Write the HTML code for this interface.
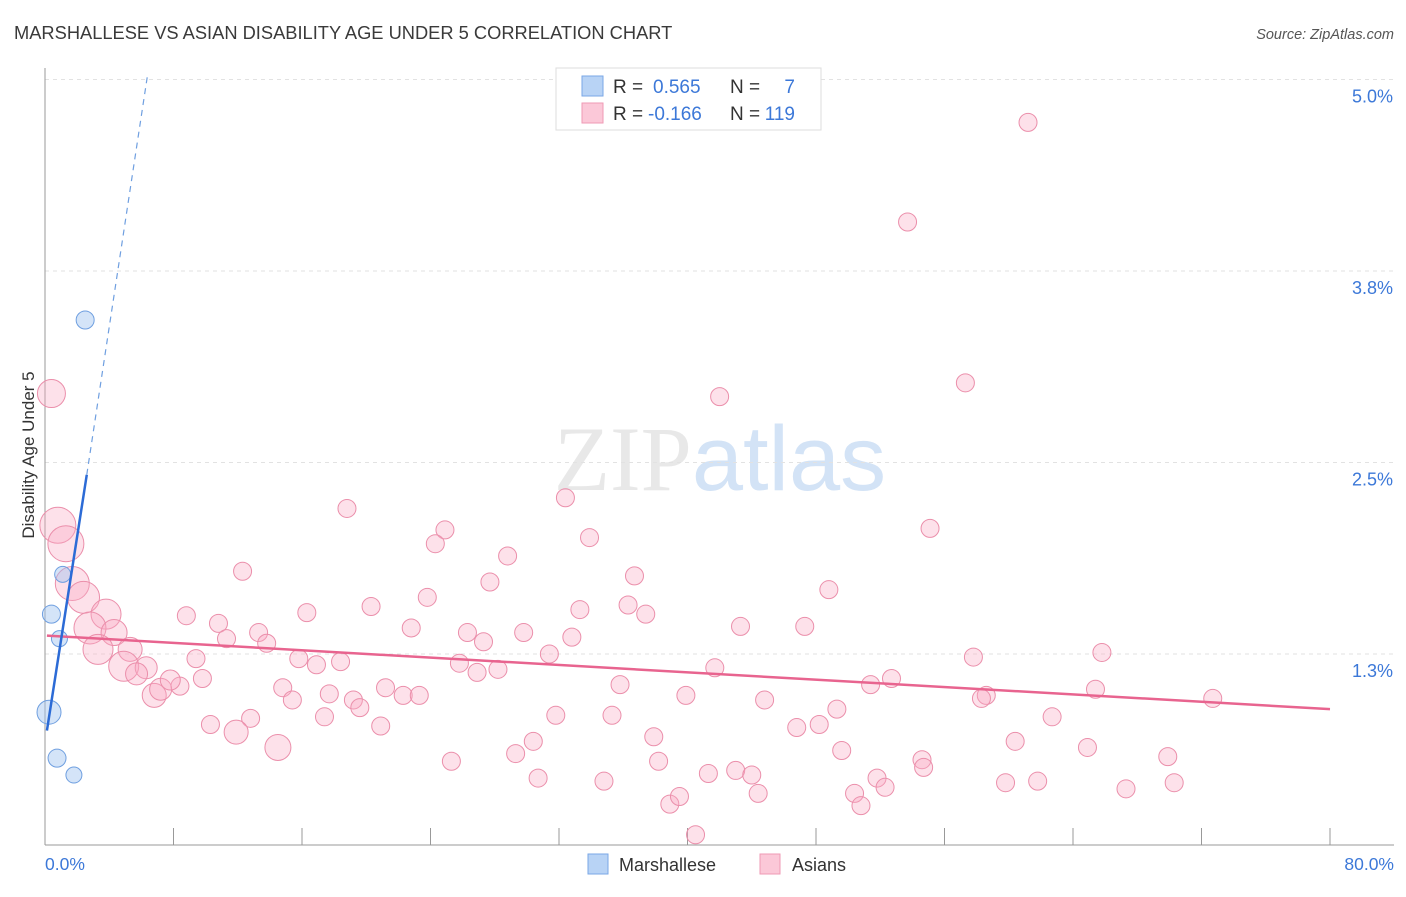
<!DOCTYPE html>
<html><head><meta charset="utf-8"><style>
body{margin:0;background:#fff;font-family:"Liberation Sans",sans-serif;}
svg text{font-family:"Liberation Sans",sans-serif;}
</style></head><body>
<svg id="chart" width="1406" height="892" xmlns="http://www.w3.org/2000/svg">
<text x="14" y="39" font-size="18.3" fill="#3a3a3a">MARSHALLESE VS ASIAN DISABILITY AGE UNDER 5 CORRELATION CHART</text>
<text x="1394" y="39" font-size="14.5" fill="#555" text-anchor="end" font-style="italic">Source: ZipAtlas.com</text>
<text x="720" y="490" font-size="92" text-anchor="middle" fill="#e8e8e8"><tspan font-family="Liberation Serif">ZIP</tspan><tspan fill="#d3e3f6">atlas</tspan></text>
<g id="grid"></g>
<g id="axes"></g>
<g id="pts"></g>
<g id="lines"></g>
<text transform="translate(34,455) rotate(-90)" font-size="17" fill="#333" text-anchor="middle">Disability Age Under 5</text>
<g>
<rect x="556" y="68" width="265" height="62" fill="#fff" stroke="#ddd"/>
<rect x="582" y="76" width="21" height="20" fill="#b8d3f5" stroke="#7aa7e6"/>
<rect x="582" y="103" width="21" height="20" fill="#fbc8d8" stroke="#ef9ab4"/>
<text x="613" y="93" font-size="19" fill="#333">R =</text>
<text x="653" y="93" font-size="19" fill="#3c78d8">0.565</text>
<text x="730" y="93" font-size="19" fill="#333">N =</text>
<text x="795" y="93" font-size="19" fill="#3c78d8" text-anchor="end">7</text>
<text x="613" y="120" font-size="19" fill="#333">R =</text>
<text x="648" y="120" font-size="19" fill="#3c78d8">-0.166</text>
<text x="730" y="120" font-size="19" fill="#333">N =</text>
<text x="795" y="120" font-size="19" fill="#3c78d8" text-anchor="end">119</text>
</g>
<g>
<rect x="588" y="854" width="20" height="20" fill="#b8d3f5" stroke="#7aa7e6"/>
<text x="619" y="871" font-size="18" fill="#333">Marshallese</text>
<rect x="760" y="854" width="20" height="20" fill="#fbc8d8" stroke="#ef9ab4"/>
<text x="792" y="871" font-size="18" fill="#333">Asians</text>
</g>
</svg>
<script>
const yTicks=[1.25,2.5,3.75,5.0];
const yTickLabels=["1.3%","2.5%","3.8%","5.0%"];
const xTickLabels=["0.0%","80.0%"];
const blueX=[2.5,1.1,0.4,0.9,0.25,0.75,1.8];
const blueY=[3.43,1.77,1.51,1.35,0.87,0.57,0.46];
const blueR=[9,8,9,8,12,9,8];
const pinkX=[61.2,53.7,57.3,42.0,32.4,18.8,24.9,55.1,24.3,33.9,28.8,12.3,36.7,27.7,48.8,23.8,8.8,16.3,20.3,33.3,36.3,37.4,10.8,11.3,22.8,26.3,27.3,29.8,32.8,43.3,47.3,13.3,13.8,31.4,25.8,15.8,16.9,18.4,9.4,26.9,28.2,41.7,57.8,65.8,9.8,8.4,14.8,21.2,15.4,17.7,19.2,19.6,22.3,23.3,35.8,39.9,44.8,51.4,52.7,58.6,58.3,65.4,72.7,10.3,12.8,17.4,20.9,31.8,35.3,49.3,46.8,48.2,62.7,37.9,30.4,29.3,49.6,60.4,64.9,69.9,25.3,38.2,54.6,54.7,41.3,43.0,44.0,30.7,34.8,51.8,52.3,44.4,50.4,59.8,61.8,67.3,70.3,38.9,39.5,50.8,40.5,0.4,0.8,1.3,1.7,2.4,3.8,2.8,4.3,3.3,5.3,4.9,6.3,5.7,6.8,7.2,7.8,11.9,14.5];
const pinkY=[4.72,4.07,3.02,2.93,2.27,2.20,2.06,2.07,1.97,2.01,1.89,1.79,1.76,1.72,1.67,1.62,1.50,1.52,1.56,1.54,1.57,1.51,1.45,1.35,1.42,1.39,1.33,1.39,1.36,1.43,1.43,1.39,1.32,1.25,1.19,1.22,1.18,1.20,1.22,1.13,1.15,1.16,1.23,1.26,1.09,1.04,1.03,1.03,0.95,0.99,0.95,0.90,0.98,0.98,1.05,0.98,0.95,1.05,1.09,0.98,0.96,1.02,0.96,0.79,0.83,0.84,0.78,0.85,0.85,0.89,0.77,0.79,0.84,0.71,0.68,0.60,0.62,0.68,0.64,0.58,0.55,0.55,0.56,0.51,0.47,0.49,0.46,0.44,0.42,0.44,0.38,0.34,0.34,0.41,0.42,0.37,0.41,0.27,0.32,0.26,0.07,2.95,2.09,1.97,1.71,1.62,1.51,1.42,1.39,1.28,1.28,1.17,1.16,1.12,0.98,1.02,1.08,0.74,0.64];
const pinkBig=[14,18,18,17,16,15,16,13,15,12,15,11,11,12,11,10,12,13];
const blueTrend=[[0.12,0.75],[2.6,2.42]];
const blueDash=[[2.6,2.42],[6.4,5.04]];
const pinkTrend=[[0.12,1.37],[80,0.89]];
const NS="http://www.w3.org/2000/svg";
const X0=45,X1=1330,Y0=845.5,PXY=153.2;
function xs(v){return X0+v*(X1-X0)/80;}
function ys(v){return Y0-v*PXY;}
function mk(t,a,p){const e=document.createElementNS(NS,t);for(const k in a)e.setAttribute(k,a[k]);p.appendChild(e);return e;}
const grid=document.getElementById('grid'),axes=document.getElementById('axes'),pts=document.getElementById('pts'),lines=document.getElementById('lines');
yTicks.forEach((t,i)=>{
 const l=mk('line',{x1:X0,x2:1394,y1:ys(t),y2:ys(t),stroke:'#e2e2e2','stroke-dasharray':'4,4'},grid);
 
 
 const tx=mk('text',{x:1393,y:ys(t)+23,'font-size':18,fill:'#3c78d8','text-anchor':'end'},axes);
 tx.textContent=yTickLabels[i];
 
 
});
mk('line',{x1:X0,x2:X0,y1:68,y2:845,stroke:'#999'},axes);
mk('line',{x1:X0,x2:1394,y1:845,y2:845,stroke:'#999'},axes);
for(let i=0;i<=10;i++){const t=mk('line',{x1:xs(i*8),x2:xs(i*8),y1:828,y2:845,stroke:'#999'},axes);
 
 }
[[0,'start',45],[80,'end',1394]].forEach((d,i)=>{const tx=mk('text',{x:d[2],y:870,'font-size':17.5,fill:'#3c78d8','text-anchor':d[1]},axes);tx.textContent=xTickLabels[i];
 
 });
pinkX.forEach((v,i)=>{const bi=i-(pinkX.length-pinkBig.length);const r=bi>=0?pinkBig[bi]:9;
 const c=mk('circle',{cx:xs(v),cy:ys(pinkY[i]),r:r,fill:'rgba(248,170,195,0.35)',stroke:'#eb8fab','stroke-width':1},pts);
 
 });
blueX.forEach((v,i)=>{const c=mk('circle',{cx:xs(v),cy:ys(blueY[i]),r:blueR[i],fill:'rgba(160,196,240,0.45)',stroke:'#6f9fe0','stroke-width':1},pts);
 
 });
function ln(p,st,w,da,name){const l=mk('line',{x1:xs(p[0][0]),y1:ys(p[0][1]),x2:xs(p[1][0]),y2:ys(p[1][1]),stroke:st,'stroke-width':w},lines);if(da)l.setAttribute('stroke-dasharray',da);
 
 }
ln(pinkTrend,'#e8648f',2.5,null,'asian-trend-line');
ln(blueTrend,'#2c6bd6',2.5,null,'marshallese-trend-line');
ln(blueDash,'#6f9fe0',1.2,'6,5','marshallese-trend-extension');
</script>
</body></html>
